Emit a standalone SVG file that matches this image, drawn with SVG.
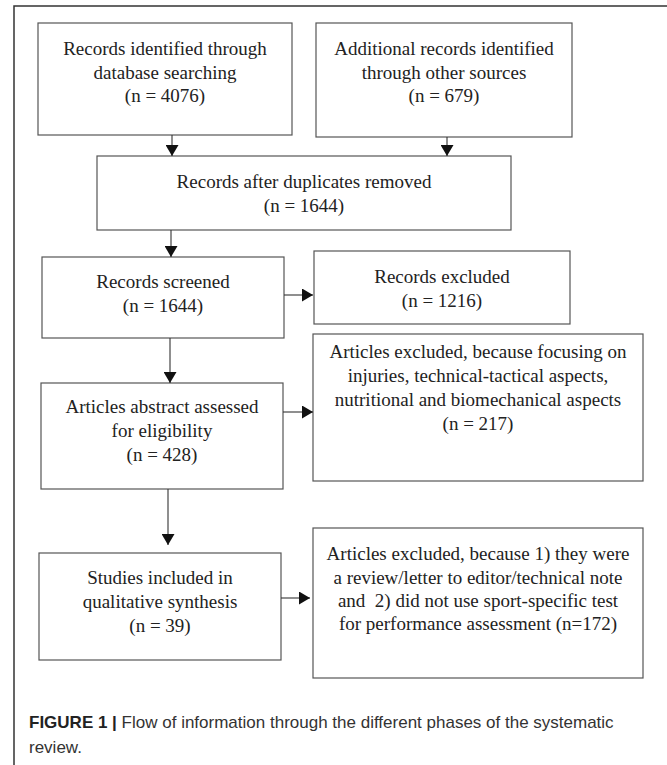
<svg xmlns="http://www.w3.org/2000/svg" width="667" height="765" viewBox="0 0 667 765">
<style>
.box{fill:#fff;stroke:#555;stroke-width:1.2}
.t{font-family:"Liberation Serif","Times New Roman",serif;font-size:19px;fill:#222;text-anchor:middle}
.c{stroke:#333;stroke-width:1.1;fill:none}
.cap{font-family:"Liberation Sans",Arial,sans-serif;font-size:17px;fill:#333}
</style>
<defs>
<marker id="ah" viewBox="0 0 10 10" refX="10" refY="5" markerWidth="11" markerHeight="13" markerUnits="userSpaceOnUse" orient="auto" preserveAspectRatio="none">
<path d="M0,0 L10,5 L0,10 Z" fill="#111"/>
</marker>
</defs>
<rect width="667" height="765" fill="#fff"/>
<path d="M14,765 L14,6 L667,6" fill="none" stroke="#333" stroke-width="1.5"/>

<g id="n1">
<rect class="box" x="38" y="23" width="254" height="112"/>
<text class="t" x="165" y="55">Records identified through</text>
<text class="t" x="165" y="78.5">database searching</text>
<text class="t" x="165" y="102">(n = 4076)</text>
</g>
<g id="n2">
<rect class="box" x="316" y="23" width="256" height="114"/>
<text class="t" x="444" y="55">Additional records identified</text>
<text class="t" x="444" y="78.5">through other sources</text>
<text class="t" x="444" y="102">(n = 679)</text>
</g>
<g id="n3">
<rect class="box" x="97" y="156" width="414" height="74"/>
<text class="t" x="304" y="188">Records after duplicates removed</text>
<text class="t" x="304" y="212">(n = 1644)</text>
</g>
<g id="n4">
<rect class="box" x="42" y="257" width="242" height="81"/>
<text class="t" x="163" y="288">Records screened</text>
<text class="t" x="163" y="312">(n = 1644)</text>
</g>
<g id="n5">
<rect class="box" x="314" y="251" width="256" height="73"/>
<text class="t" x="442" y="283">Records excluded</text>
<text class="t" x="442" y="307">(n = 1216)</text>
</g>
<g id="n6">
<rect class="box" x="41" y="383" width="242" height="106"/>
<text class="t" x="162" y="413">Articles abstract assessed</text>
<text class="t" x="162" y="437">for eligibility</text>
<text class="t" x="162" y="461">(n = 428)</text>
</g>
<g id="n7">
<rect class="box" x="313" y="334" width="330" height="147"/>
<text class="t" x="478" y="358">Articles excluded, because focusing on</text>
<text class="t" x="478" y="382">injuries, technical-tactical aspects,</text>
<text class="t" x="478" y="406">nutritional and biomechanical aspects</text>
<text class="t" x="478" y="430">(n = 217)</text>
</g>
<g id="n8">
<rect class="box" x="39" y="553" width="242" height="107"/>
<text class="t" x="160" y="584">Studies included in</text>
<text class="t" x="160" y="608">qualitative synthesis</text>
<text class="t" x="160" y="632">(n = 39)</text>
</g>
<g id="n9">
<rect class="box" x="313" y="528" width="330" height="150"/>
<text class="t" x="478" y="560">Articles excluded, because 1) they were</text>
<text class="t" x="478" y="583.5">a review/letter to editor/technical note</text>
<text class="t" x="478" y="607" xml:space="preserve">and  2) did not use sport-specific test</text>
<text class="t" x="478" y="630">for performance assessment (n=172)</text>
</g>

<g id="connectors">
<line class="c" x1="172" y1="135" x2="172" y2="156" marker-end="url(#ah)"/>
<line class="c" x1="447" y1="137" x2="447" y2="156" marker-end="url(#ah)"/>
<line class="c" x1="171" y1="230" x2="171" y2="257" marker-end="url(#ah)"/>
<line class="c" x1="284" y1="295" x2="313" y2="295" marker-end="url(#ah)"/>
<line class="c" x1="170" y1="338" x2="170" y2="383" marker-end="url(#ah)"/>
<line class="c" x1="283" y1="412" x2="313" y2="412" marker-end="url(#ah)"/>
<line class="c" x1="168" y1="489" x2="168" y2="545" marker-end="url(#ah)"/>
<line class="c" x1="281" y1="598" x2="310" y2="598" marker-end="url(#ah)"/>
</g>

<text class="cap" x="29" y="728"><tspan font-weight="bold" fill="#222">FIGURE 1 |</tspan> Flow of information through the different phases of the systematic</text>
<text class="cap" x="29" y="753">review.</text>
</svg>
